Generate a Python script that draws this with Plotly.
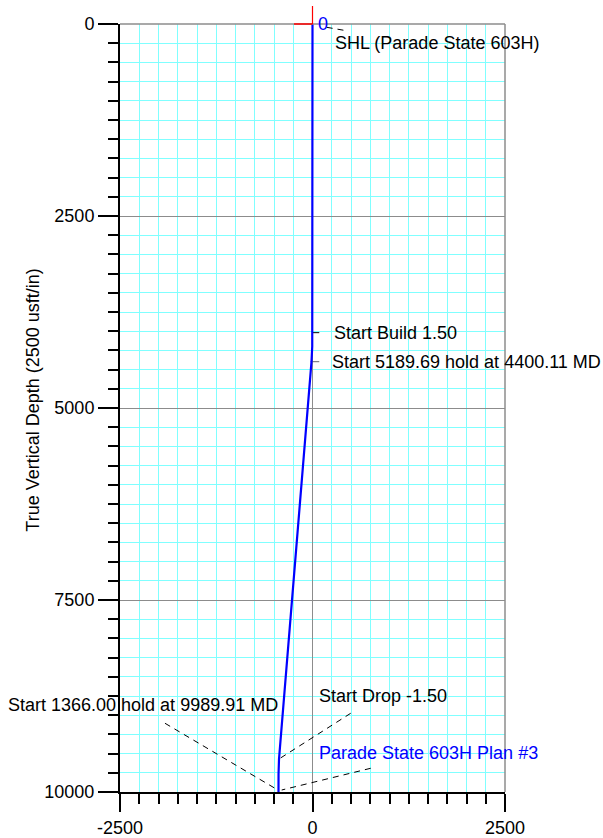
import plotly.graph_objects as go

# ---- data ----
# well path: vertical section (usft) vs true vertical depth (usft)
path_vs = [0, 0, -3.5, -13, -435, -441, -444, -444]
path_tvd = [0, 4000, 4200, 4397, 9570, 9770, 9968, 11334]

# annotation labels: text, anchor x, anchor y
label_texts = ["SHL (Parade State 603H)", "Start Build 1.50",
               "Start 5189.69 hold at 4400.11 MD", "Start Drop -1.50",
               "Start 1366.00 hold at 9989.91 MD", "Parade State 603H Plan #3"]
label_x = [270, 249, 227, 62, -422, 62]
label_y = [251, 4019, 4397, 8746, 8867, 9497]
label_anchor = ["left", "left", "left", "left", "right", "left"]
label_color = ["black", "black", "black", "black", "black", "blue"]

# leader lines from labels to path points
leader_x0 = [184, 0, -13, 496, -1916, 756]
leader_y0 = [43, 4019, 4397, 8975, 9105, 9691]
leader_x1 = [461, 88, 88, -435, -465, -400]
leader_y1 = [91, 4019, 4397, 9570, 9965, 9974]
leader_dash = ["dash", "solid", "solid", "dash", "dash", "dash"]
leader_color = ["black", "black", "#666666", "black", "black", "black"]

x_ticks = [-2500, 0, 2500]
y_ticks = [0, 2500, 5000, 7500, 10000]

FONT = "Liberation Sans, Arial, sans-serif"
FS = 18

fig = go.Figure()

# leaders
for i in range(len(leader_x0)):
    fig.add_trace(go.Scatter(
        x=[leader_x0[i], leader_x1[i]], y=[leader_y0[i], leader_y1[i]],
        mode="lines",
        line=dict(color=leader_color[i], width=1,
                  dash="solid" if leader_dash[i] == "solid" else "6px,5px"),
        hoverinfo="skip", showlegend=False))

# well path
fig.add_trace(go.Scatter(x=path_vs, y=path_tvd, mode="lines",
                         line=dict(color="#0000ff", width=2.2),
                         showlegend=False))

for t, x, y, a, c in zip(label_texts, label_x, label_y, label_anchor, label_color):
    fig.add_annotation(x=x, y=y, text=t, xanchor=a, yanchor="middle",
                       showarrow=False, font=dict(family=FONT, size=FS, color=c))

# origin "0" label
fig.add_annotation(x=0, y=0, text="0", xanchor="left", yanchor="middle", xshift=3,
                   showarrow=False, font=dict(family=FONT, size=FS, color="blue"))

# axis title
fig.add_annotation(xref="paper", yref="paper", x=-0.225, y=0.51,
                   text="True Vertical Depth (2500 usft/in)",
                   textangle=-90, showarrow=False, xanchor="center", yanchor="middle",
                   font=dict(family=FONT, size=FS, color="black"))

# gray top/right border
fig.add_shape(type="line", xref="paper", yref="paper", x0=0, x1=1, y0=1, y1=1,
              line=dict(color="#8c8c8c", width=1.5), layer="above")
fig.add_shape(type="line", xref="paper", yref="paper", x0=1, x1=1, y0=0, y1=1,
              line=dict(color="#8c8c8c", width=1.5), layer="above")
# red origin marker
fig.add_shape(type="line", xref="x", yref="paper", x0=0, x1=0, y0=1, y1=1 + 18 / 768,
              line=dict(color="red", width=1.2), layer="above")
fig.add_shape(type="line", xref="x", yref="paper", x0=-240, x1=0, y0=1, y1=1,
              line=dict(color="red", width=1.5), layer="above")

axis_common = dict(
    showline=True, linecolor="black", linewidth=2,
    ticks="outside", tickcolor="black", tickwidth=2,
    showgrid=True, gridcolor="#8c8c8c", gridwidth=1.2,
    zeroline=False, automargin=False,
    tickfont=dict(family=FONT, size=FS, color="black"),
    minor=dict(dtick=250, ticks="outside", ticklen=10, tickwidth=1.5, tickcolor="black",
               showgrid=True, gridcolor="#80ffff", gridwidth=1),
)

fig.update_xaxes(range=[-2500, 2500], tickvals=x_ticks, ticktext=[str(v) for v in x_ticks],
                 ticklen=18, **axis_common)
fig.update_yaxes(range=[10000, 0], tickvals=y_ticks, ticktext=[str(v) for v in y_ticks],
                 ticklen=20, **axis_common)

fig.update_layout(
    width=603, height=838,
    margin=dict(l=120, r=98, t=24, b=46, pad=0),
    plot_bgcolor="white", paper_bgcolor="white",
    font=dict(family=FONT, size=FS, color="black"),
)

fig.write_html("out.html", config={"displayModeBar": False},
               post_script="document.body.style.margin='0';document.body.style.overflow='hidden';")
